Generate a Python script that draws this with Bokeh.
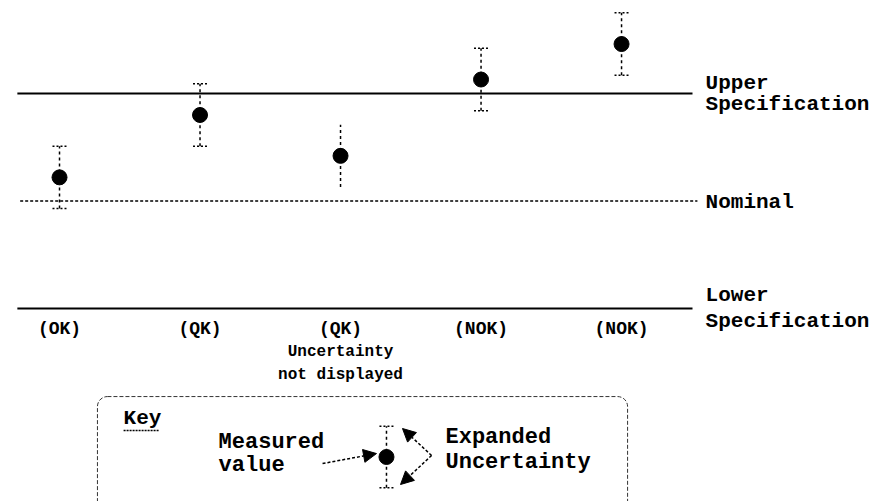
from bokeh.plotting import figure
from bokeh.models import Range1d, Arrow, NormalHead, BoxAnnotation
from bokeh.core.properties import value
from bokeh.embed import file_html
from bokeh.resources import INLINE

# ---- data ----
positions = [0, 1, 2, 3, 4]
measured = [0.22, 0.80, 0.42, 1.13, 1.46]
uncertainty = [0.29, 0.29, 0.29, 0.29, 0.29]
show_caps = [True, True, False, True, True]
verdicts = ["(OK)", "(QK)", "(QK)", "(NOK)", "(NOK)"]
upper_spec = 1.0
nominal = 0.0
lower_spec = -1.0

FONT = value("Liberation Mono")

p = figure(width=872, height=501, output_backend="svg", toolbar_location=None,
           x_range=Range1d(-0.420, 5.786), y_range=Range1d(-2.795, 1.865),
           min_border=0, outline_line_color=None)
p.axis.visible = False
p.grid.visible = False

# reference lines
p.segment(x0=[-0.30, -0.30], x1=[4.505, 4.505], y0=[upper_spec, lower_spec],
          y1=[upper_spec, lower_spec], line_color="black", line_width=2)
p.segment(x0=[-0.28], x1=[4.54], y0=[nominal], y1=[nominal],
          line_color="black", line_width=1.5, line_dash="3 2")

# error bars
lo = [m - u for m, u in zip(measured, uncertainty)]
hi = [m + u for m, u in zip(measured, uncertainty)]
p.segment(x0=positions, x1=positions, y0=lo, y1=hi, line_color="black",
          line_width=1.5, line_dash="3 3")
cap = 0.05
cx = [x for x, c in zip(positions, show_caps) if c]
clo = [v for v, c in zip(lo, show_caps) if c]
chi = [v for v, c in zip(hi, show_caps) if c]
p.segment(x0=[x - cap for x in cx] * 2, x1=[x + cap for x in cx] * 2,
          y0=clo + chi, y1=clo + chi, line_color="black", line_width=1.5,
          line_dash="2 2")
p.scatter(x=positions, y=measured, size=15, color="black")

# right labels
p.text(x=[4.598] * 5, y=[1.094, 0.898, -0.013, -0.879, -1.12],
       text=["Upper", "Specification", "Nominal", "Lower", "Specification"],
       text_font=FONT, text_font_style="bold", text_font_size="21px",
       text_baseline="alphabetic", text_align="left", text_color="black")

# verdicts
p.text(x=positions, y=[-1.186] * 5, text=verdicts, text_font=FONT,
       text_font_style="bold", text_font_size="18px", text_baseline="middle",
       text_align="center", text_color="black")
p.text(x=[2, 2], y=[-1.409, -1.623], text=["Uncertainty", "not displayed"],
       text_font=FONT, text_font_style="bold", text_font_size="16px",
       text_baseline="middle", text_align="center", text_color="black")

# key box
p.add_layout(BoxAnnotation(left=0.270, right=4.043, top=-1.819, bottom=-2.9,
                           fill_alpha=0, line_color="#333333", line_alpha=1.0,
                           line_width=1, line_dash="4 2", border_radius=10))
p.text(x=[0.456], y=[-2.025], text=["Key"], text_font=FONT,
       text_font_style="bold", text_font_size="21px",
       text_baseline="alphabetic", text_align="left", text_color="black")
p.segment(x0=[0.456], x1=[0.712], y0=[-2.135], y1=[-2.135],
          line_color="black", line_width=1.5, line_dash="2 1")
p.text(x=[1.132, 1.132, 2.747, 2.747], y=[-2.246, -2.46, -2.2, -2.433],
       text=["Measured", "value", "Expanded", "Uncertainty"], text_font=FONT,
       text_font_style="bold", text_font_size="22px",
       text_baseline="alphabetic", text_align="left", text_color="black")

key_x = 2.327
key_v = -2.381
key_u = 0.286
p.segment(x0=[key_x], x1=[key_x], y0=[key_v - key_u], y1=[key_v + key_u],
          line_color="black", line_width=1.5, line_dash="3 3")
p.segment(x0=[key_x - cap] * 2, x1=[key_x + cap] * 2,
          y0=[key_v - key_u, key_v + key_u], y1=[key_v - key_u, key_v + key_u],
          line_color="black", line_width=1.5, line_dash="2 2")
p.scatter(x=[key_x], y=[key_v], size=15, color="black")

arrows = [((1.872, -2.442), (2.256, -2.349)),
          ((2.648, -2.367), (2.441, -2.116)),
          ((2.648, -2.367), (2.427, -2.637))]
for (xs, ys), (xe, ye) in arrows:
    p.add_layout(Arrow(end=NormalHead(size=13, fill_color="black",
                                      line_color="black"),
                       x_start=xs, y_start=ys, x_end=xe, y_end=ye,
                       line_color="black", line_width=1.5, line_dash="3 2"))

open("out.html", "w").write(file_html(p, INLINE))
